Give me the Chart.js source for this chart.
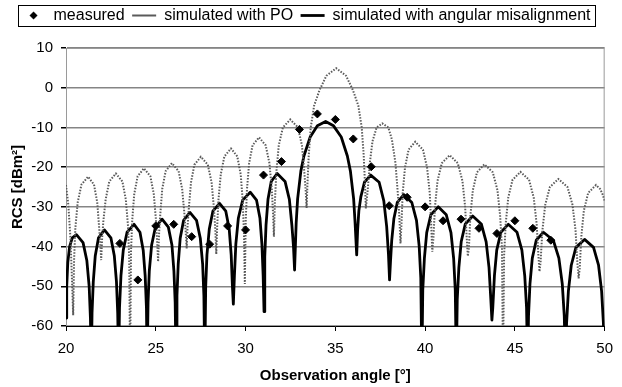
<!DOCTYPE html>
<html>
<head>
<meta charset="utf-8">
<script src="https://cdn.jsdelivr.net/npm/chart.js@4/dist/chart.umd.min.js"></script>
<style>
  html, body { margin: 0; padding: 0; background: #ffffff; }
  #wrap { width: 622px; height: 387px; }
</style>
</head>
<body>
<div id="wrap"><canvas id="c" width="622" height="387"></canvas></div>
<script>
// ---------------- data ----------------
const seriesNames = ['measured', 'simulated with PO', 'simulated with angular misalignment'];

const measuredAngles = [23, 24, 25, 26, 27, 28, 29, 30, 31, 32, 33, 34, 35, 36, 37, 38, 39, 40, 41, 42, 43, 44, 45, 46, 47];
const measuredRCS = [-39.2, -48.4, -34.8, -34.4, -37.5, -39.4, -34.8, -35.8, -22.0, -18.6, -10.5, -6.6, -8.0, -12.9, -19.9,
  -29.7, -27.6, -30.0, -33.5, -33.1, -35.4, -36.7, -33.5, -35.4, -38.4];

const poAngles = [
  20.00, 20.13, 20.25, 20.33, 20.40,
  20.45, 20.52, 20.65, 20.86, 21.23, 21.56, 21.74, 21.85, 21.92, 21.96,
  22.01, 22.08, 22.21, 22.41, 22.78, 23.14, 23.33, 23.45, 23.52, 23.57,
  23.62, 23.69, 23.80, 23.99, 24.34, 24.70, 24.89, 25.01, 25.08, 25.13,
  25.18, 25.25, 25.36, 25.55, 25.90, 26.27, 26.47, 26.60, 26.67, 26.72,
  26.77, 26.84, 26.96, 27.15, 27.51, 27.90, 28.11, 28.24, 28.32, 28.37,
  28.42, 28.49, 28.62, 28.82, 29.19, 29.54, 29.73, 29.84, 29.91, 29.96,
  30.01, 30.08, 30.20, 30.39, 30.75, 31.12, 31.33, 31.46, 31.53, 31.58,
  31.63, 31.72, 31.85, 32.08, 32.49, 32.92, 33.14, 33.27, 33.35, 33.40,
  33.45, 33.52, 33.63, 33.82, 34.12, 34.50, 35.05, 35.60, 35.98, 36.28, 36.47, 36.58, 36.65, 36.70,
  36.80, 36.92, 37.07, 37.30, 37.62, 37.95, 38.15, 38.35, 38.47, 38.56, 38.63,
  38.68, 38.75, 38.88, 39.08, 39.45, 39.88, 40.11, 40.26, 40.34, 40.40,
  40.46, 40.55, 40.69, 40.93, 41.37, 41.82, 42.08, 42.23, 42.32, 42.38,
  42.44, 42.52, 42.66, 42.89, 43.30, 43.77, 44.03, 44.18, 44.28, 44.34,
  44.40, 44.49, 44.63, 44.87, 45.31, 45.79, 46.05, 46.21, 46.31, 46.37,
  46.43, 46.53, 46.69, 46.95, 47.42, 47.93, 48.21, 48.38, 48.48, 48.55,
  48.61, 48.70, 48.84, 49.08, 49.52, 49.75, 49.90, 50.00
];
const poRCS = [
  -24.5, -29.5, -38.0, -48.0, -57.3,
  -43.4, -35.4, -28.9, -24.4, -22.4, -24.4, -28.9, -35.4, -40.0, -43.4,
  -38.0, -33.6, -28.1, -23.6, -21.6, -23.6, -28.1, -34.6, -42.6, -70.0,
  -41.3, -33.3, -26.8, -22.3, -20.3, -22.3, -26.8, -33.3, -39.0, -43.8,
  -37.0, -32.0, -25.5, -21.0, -19.0, -21.0, -25.5, -32.0, -36.5, -40.5,
  -35.0, -30.4, -23.9, -19.4, -17.4, -19.4, -23.9, -30.4, -36.0, -41.9,
  -35.0, -28.3, -21.8, -17.3, -15.3, -17.3, -21.8, -28.3, -36.3, -49.4,
  -33.5, -25.5, -19.0, -14.5, -12.5, -14.5, -19.0, -25.5, -31.5, -37.5,
  -29.0, -21.0, -14.5, -10.0, -8.0, -10.0, -14.5, -21.0, -26.0, -30.3,
  -24.0, -17.0, -10.0, -4.5, -0.6, 3.0, 4.9, 3.0, -0.6, -4.5, -10.0, -17.0, -24.0, -30.4,
  -26.0, -19.0, -13.5, -10.0, -9.0, -10.0, -13.0, -19.0, -26.0, -32.0, -39.2,
  -34.6, -26.6, -20.1, -15.6, -13.6, -15.6, -20.1, -26.6, -34.6, -41.3,
  -38.0, -30.0, -23.5, -19.0, -17.0, -19.0, -23.5, -30.0, -38.0, -42.4,
  -40.3, -32.3, -25.8, -21.3, -19.3, -21.3, -25.8, -32.3, -40.3, -70.0,
  -42.2, -34.2, -27.7, -23.2, -21.2, -23.2, -27.7, -34.2, -42.2, -46.3,
  -44.0, -36.0, -29.5, -25.0, -23.0, -25.0, -29.5, -36.0, -44.0, -48.0,
  -45.5, -37.5, -31.0, -26.5, -24.5, -25.5, -27.0, -28.5
];

const misAngles = [
  20.00, 20.04, 20.10, 20.20, 20.35, 20.58, 20.95, 21.16, 21.29, 21.36, 21.41,
  21.45, 21.52, 21.63, 21.81, 22.14, 22.50, 22.69, 22.81, 22.88, 22.93,
  22.98, 23.06, 23.19, 23.40, 23.79, 24.12, 24.30, 24.41, 24.48, 24.52,
  24.57, 24.64, 24.77, 24.98, 25.35, 25.70, 25.90, 26.01, 26.08, 26.13,
  26.18, 26.25, 26.36, 26.55, 26.90, 27.27, 27.48, 27.61, 27.68, 27.73,
  27.78, 27.85, 27.98, 28.18, 28.55, 28.90, 29.09, 29.20, 29.27, 29.32,
  29.38, 29.46, 29.60, 29.84, 30.26, 30.61, 30.80, 30.91, 30.98, 31.03,
  31.07, 31.14, 31.25, 31.43, 31.76, 32.20, 32.44, 32.58, 32.67, 32.73,
  32.82, 32.90, 33.08, 33.25, 33.60, 34.00, 34.46, 34.90, 35.33, 35.67, 35.84, 36.02, 36.10, 36.19,
  36.24, 36.31, 36.42, 36.62, 36.97, 37.44, 37.70, 37.86, 37.96, 38.02,
  38.07, 38.14, 38.26, 38.45, 38.81, 39.26, 39.52, 39.67, 39.76, 39.82,
  39.87, 39.96, 40.09, 40.32, 40.73, 41.18, 41.44, 41.59, 41.68, 41.74,
  41.79, 41.88, 42.01, 42.24, 42.65, 43.13, 43.40, 43.56, 43.66, 43.72,
  43.77, 43.86, 43.99, 44.22, 44.63, 45.12, 45.39, 45.55, 45.65, 45.71,
  45.76, 45.84, 45.97, 46.19, 46.59, 47.14, 47.45, 47.64, 47.75, 47.82,
  47.88, 47.98, 48.14, 48.40, 48.88, 49.38, 49.66, 49.83, 49.93, 50.00
];
const misRCS = [
  -58.0, -50.0, -44.0, -40.0, -37.8, -37.0, -39.0, -43.5, -50.0, -58.0, -70.0,
  -56.8, -48.8, -42.3, -37.8, -35.8, -37.8, -42.3, -48.8, -56.8, -70.0,
  -55.4, -47.4, -40.9, -36.4, -34.4, -36.4, -40.9, -47.4, -55.4, -70.0,
  -54.1, -46.1, -39.6, -35.1, -33.1, -35.1, -39.6, -46.1, -54.1, -70.0,
  -52.4, -44.4, -37.9, -33.4, -31.4, -33.4, -37.9, -44.4, -52.4, -70.0,
  -50.1, -42.1, -35.6, -31.1, -29.1, -31.1, -35.6, -42.1, -50.1, -54.5,
  -47.3, -39.3, -32.8, -28.3, -26.3, -28.3, -32.8, -39.3, -47.3, -56.4,
  -42.6, -34.6, -28.1, -23.6, -21.6, -23.6, -28.1, -34.6, -40.0, -45.9,
  -34.0, -28.0, -21.0, -17.2, -12.4, -9.6, -8.5, -9.6, -12.4, -17.2, -21.0, -28.0, -34.0, -42.1,
  -36.0, -31.0, -27.5, -23.8, -22.0, -23.8, -28.5, -35.0, -42.0, -48.4,
  -44.0, -38.5, -33.0, -28.9, -26.9, -28.9, -33.4, -39.9, -47.9, -70.0,
  -51.0, -43.0, -36.5, -32.0, -30.0, -32.0, -36.5, -43.0, -51.0, -70.0,
  -53.3, -45.3, -38.8, -34.3, -32.3, -34.3, -38.8, -45.3, -53.3, -58.5,
  -55.4, -47.4, -40.9, -36.4, -34.4, -36.4, -40.9, -47.4, -55.4, -70.0,
  -57.4, -49.4, -42.9, -38.4, -36.4, -38.4, -42.9, -49.4, -57.4, -70.0,
  -59.2, -51.2, -44.7, -40.2, -38.2, -40.2, -44.7, -51.2, -59.2, -70.0
];

const xTicks = [20, 25, 30, 35, 40, 45, 50];
const yTicks = [10, 0, -10, -20, -30, -40, -50, -60];
const xTitle = 'Observation angle [°]';
const yTitle = 'RCS [dBm²]';

// ---------------- chart ----------------
const toXY = (xs, ys) => xs.map((x, i) => ({ x: x, y: ys[i] }));
const FONT = "'Liberation Sans', Arial, sans-serif";
Chart.defaults.font.family = FONT;
Chart.defaults.color = '#000';

// small diamond marker used as the legend symbol of the measured series
const legendDiamond = document.createElement('canvas');
legendDiamond.width = 9; legendDiamond.height = 9;
(function () {
  const g = legendDiamond.getContext('2d');
  g.fillStyle = '#000';
  g.beginPath();
  g.moveTo(4.5, 0.5); g.lineTo(8.5, 4.5); g.lineTo(4.5, 8.5); g.lineTo(0.5, 4.5);
  g.closePath(); g.fill();
})();

const layoutPlugin = {
  id: 'excelLook',
  beforeLayout(chart) {
    const lg = chart.legend;
    if (lg && !lg._patched) {
      const origFit = lg.fit.bind(lg);
      lg.fit = function () { origFit(); this.height = 48; };
      lg._patched = true;
    }
  },
  beforeDatasetsDraw(chart) {
    const a = chart.chartArea, ctx = chart.ctx;
    ctx.save();
    ctx.strokeStyle = '#9a9a9a';
    ctx.lineWidth = 1;
    ctx.strokeRect(a.left + 0.5, a.top + 0.5, a.right - a.left - 1, a.bottom - a.top - 1);
    ctx.restore();
  },
  afterDraw(chart) {
    const lg = chart.legend;
    if (!lg || !lg.legendHitBoxes || !lg.legendHitBoxes.length) return;
    const hb = lg.legendHitBoxes;
    const first = hb[0], last = hb[hb.length - 1];
    const l = Math.round(first.left - 4);
    const r = Math.round(last.left + last.width + 5);
    const cy = first.top + first.height / 2;
    const ctx = chart.ctx;
    ctx.save();
    ctx.strokeStyle = '#000';
    ctx.lineWidth = 1;
    ctx.strokeRect(l + 0.5, Math.round(cy - 11) + 0.5, r - l, 21);
    ctx.restore();
  }
};

new Chart(document.getElementById('c'), {
  type: 'scatter',
  data: {
    datasets: [
      {
        label: seriesNames[0],
        data: toXY(measuredAngles, measuredRCS),
        showLine: false,
        pointStyle: 'rectRot',
        pointRadius: 4,
        pointBorderWidth: 1,
        backgroundColor: '#000',
        borderColor: '#000',
        borderWidth: 1
      },
      {
        label: seriesNames[1],
        data: toXY(poAngles, poRCS),
        showLine: true,
        pointRadius: 0,
        pointStyle: 'line',
        borderColor: '#5a5a5a',
        backgroundColor: '#5a5a5a',
        borderWidth: 2,
        borderDash: [1.5, 1.5],
        tension: 0,
        clip: 0
      },
      {
        label: seriesNames[2],
        data: toXY(misAngles, misRCS),
        showLine: true,
        pointRadius: 0,
        pointStyle: 'line',
        borderColor: '#000',
        backgroundColor: '#000',
        borderWidth: 2.8,
        borderJoinStyle: 'round',
        borderCapStyle: 'round',
        tension: 0,
        clip: 0
      }
    ]
  },
  options: {
    responsive: false,
    animation: false,
    devicePixelRatio: 1,
    layout: { padding: { left: 0, right: 10, top: 0, bottom: 0 } },
    plugins: {
      tooltip: { enabled: false },
      legend: {
        display: true,
        position: 'top',
        labels: {
          usePointStyle: true,
          pointStyleWidth: 24,
          boxHeight: 5,
          padding: 7.5,
          color: '#000',
          font: { size: 16, family: FONT },
          generateLabels(chart) {
            const items = Chart.defaults.plugins.legend.labels.generateLabels(chart);
            items.forEach(it => {
              if (it.datasetIndex === 0) { it.pointStyle = legendDiamond; }
            });
            return items;
          }
        }
      }
    },
    scales: {
      x: {
        type: 'linear',
        min: xTicks[0],
        max: xTicks[xTicks.length - 1],
        afterBuildTicks(scale) { scale.ticks = xTicks.map(v => ({ value: v })); },
        afterFit(scale) { scale.height = 61; },
        ticks: { padding: 9, color: '#000', font: { size: 15, family: FONT } },
        grid: { drawOnChartArea: false, drawTicks: true, tickLength: 5, tickColor: '#000' },
        border: { display: true, color: '#000', width: 1 },
        title: {
          display: true,
          text: xTitle,
          color: '#000',
          font: { size: 15, weight: 'bold', family: FONT },
          padding: { top: 0, bottom: 2 }
        }
      },
      y: {
        type: 'linear',
        min: yTicks[yTicks.length - 1],
        max: yTicks[0],
        afterBuildTicks(scale) { scale.ticks = yTicks.map(v => ({ value: v })); },
        afterFit(scale) { scale.width = 66; },
        ticks: { padding: 8, color: '#000', font: { size: 15, family: FONT } },
        grid: { color: '#858585', lineWidth: 1.5, drawTicks: true, tickLength: 5, tickColor: '#000' },
        border: { display: true, color: '#000', width: 1 },
        title: {
          display: true,
          text: yTitle,
          color: '#000',
          font: { size: 15, weight: 'bold', family: FONT },
          padding: { top: 8.5, bottom: 0 }
        }
      }
    }
  },
  plugins: [layoutPlugin]
});
</script>
</body>
</html>
